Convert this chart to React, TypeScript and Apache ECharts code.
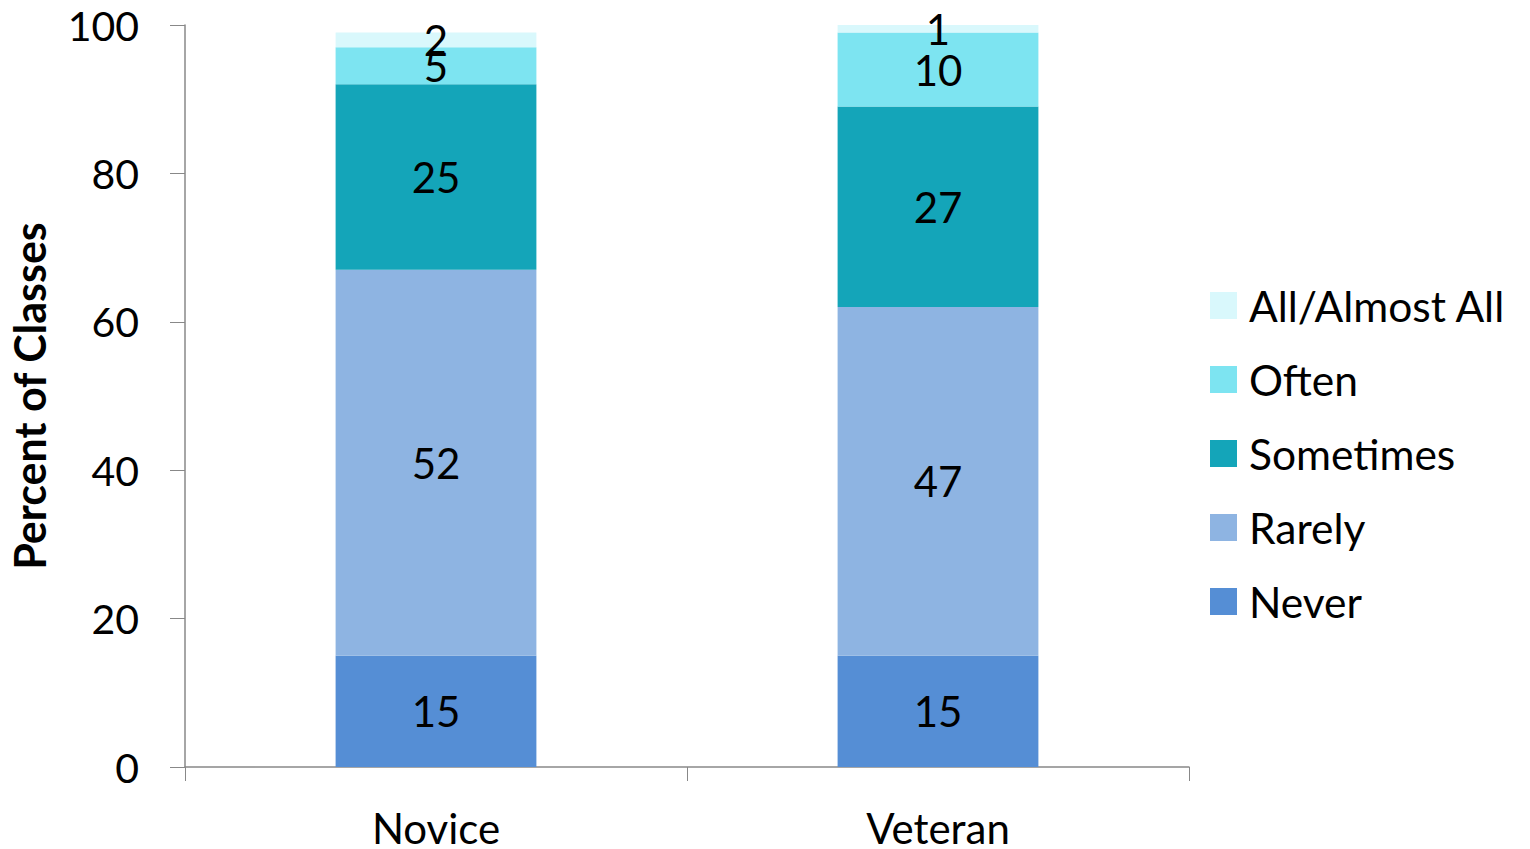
import React, { useEffect, useRef } from "react";
import * as echarts from "echarts";

const categories = ["Novice", "Veteran"];
const never = [15, 15];
const rarely = [52, 47];
const sometimes = [25, 27];
const often = [5, 10];
const allAlmostAll = [2, 1];
const yTicks = [0, 20, 40, 60, 80, 100];

const FONT = "Lato, 'Open Sans', sans-serif";

export default function App() {
  const ref = useRef<HTMLDivElement>(null);
  useEffect(() => {
    if (!ref.current) return;
    const chart = echarts.init(ref.current, undefined, { renderer: "svg" });
    const mk = (name: string, data: number[], color: string) => ({
      name,
      type: "bar",
      stack: "total",
      data,
      barWidth: "40%",
      itemStyle: { color },
      label: {
        show: true,
        position: "inside",
        color: "#000",
        fontSize: 42,
        fontFamily: FONT,
      },
    });
    chart.setOption({
      animation: false,
      textStyle: { fontFamily: FONT },
      grid: { left: 183, right: 341, top: 25, bottom: 80, containLabel: false },
      legend: {
        orient: "vertical",
        left: 1205,
        top: 279,
        itemWidth: 27,
        itemHeight: 27,
        itemGap: 31,
        icon: "rect",
        data: ["All/Almost All", "Often", "Sometimes", "Rarely", "Never"],
        textStyle: {
          fontSize: 42.5,
          color: "#000",
          fontFamily: FONT,
          lineHeight: 40,
          padding: [0, 0, 0, 7],
        },
      },
      xAxis: {
        type: "category",
        data: categories,
        axisLine: { lineStyle: { color: "#888", width: 1.5 } },
        axisTick: { show: true, length: 14, lineStyle: { color: "#888" } },
        axisLabel: { fontSize: 42, color: "#000", margin: 40, fontFamily: FONT },
      },
      yAxis: {
        type: "value",
        min: yTicks[0],
        max: yTicks[yTicks.length - 1],
        interval: 20,
        name: "Percent of Classes",
        nameLocation: "middle",
        nameGap: 134,
        nameTextStyle: { fontSize: 43, fontWeight: "bold", color: "#000", fontFamily: FONT },
        axisLine: { show: true, lineStyle: { color: "#888", width: 1.5 } },
        axisTick: { show: true, length: 15, lineStyle: { color: "#888" } },
        splitLine: { show: false },
        axisLabel: { fontSize: 41, color: "#000", margin: 46, fontFamily: FONT },
      },
      series: [
        mk("Never", never, "#558ED5"),
        mk("Rarely", rarely, "#8EB4E2"),
        mk("Sometimes", sometimes, "#14A5B9"),
        mk("Often", often, "#7DE4F1"),
        mk("All/Almost All", allAlmostAll, "#D9F8FC"),
      ],
    });
    return () => chart.dispose();
  }, []);
  return <div ref={ref} style={{ width: 1530, height: 849, position: "absolute", left: 0, top: 0 }} />;
}
